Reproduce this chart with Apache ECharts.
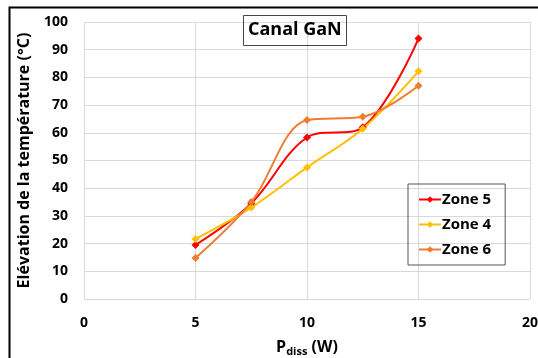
<!DOCTYPE html>
<html><head><meta charset="utf-8">
<script src="https://cdn.jsdelivr.net/npm/echarts@6/dist/echarts.min.js"></script>
<style>html,body{margin:0;padding:0;background:#fff}#c{width:538px;height:358px}</style>
</head><body><div id="c"></div>
<script>
const xValues = [5, 7.5, 10, 12.5, 15];
const zone5 = [19.5, 34.5, 58.3, 62, 94];
const zone4 = [21.7, 33, 47.5, 61.5, 82.2];
const zone6 = [14.8, 35, 64.6, 65.8, 77];
const seriesNames = ['Zone 5', 'Zone 4', 'Zone 6'];
const seriesColors = ['#ff0000', '#ffc000', '#ed7d31'];
const allSeries = [zone5, zone4, zone6];

const chart = echarts.init(document.getElementById('c'));
const font = 'Open Sans, Noto Sans, sans-serif';
chart.setOption({
  animation: false,
  title: {
    text: 'Canal GaN', left: 243, top: 15,
    padding: [6, 5, 7, 5],
    borderColor: '#444', borderWidth: 1,
    textStyle: { fontFamily: font, fontWeight: 'bold', fontSize: 18, color: '#000' }
  },
  graphic: [{
    type: 'rect', shape: { x: 9.5, y: 7.5, width: 540, height: 360 },
    style: { fill: 'none', stroke: '#000', lineWidth: 2 }, silent: true
  }],
  legend: {
    orient: 'vertical', left: 408, top: 184,
    padding: [8, 14, 8, 10], itemGap: 10,
    borderColor: '#555', borderWidth: 1,
    itemWidth: 22, itemHeight: 8,
    textStyle: { fontFamily: font, fontWeight: 'bold', fontSize: 15, color: '#000', padding: [0, 0, 0, -4] },
    data: seriesNames
  },
  grid: { left: 84, right: 8, top: 22, bottom: 59, outerBoundsMode: 'none', containLabel: false },
  xAxis: {
    type: 'value', min: 0, max: 20, interval: 5,
    axisLine: { show: false }, axisTick: { show: false },
    splitLine: { show: true, lineStyle: { color: '#d9d9d9', width: 1 } },
    axisLabel: { fontFamily: font, fontWeight: 'bold', fontSize: 14, color: '#000', margin: 17 },
    name: '{a|P}{b|diss}{a| (W)}', nameLocation: 'middle', nameGap: 38,
    nameTextStyle: {
      rich: {
        a: { fontFamily: font, fontWeight: 'bold', fontSize: 16, color: '#000' },
        b: { fontFamily: font, fontWeight: 'bold', fontSize: 11, color: '#000', padding: [9, 0, 0, 0] }
      }
    }
  },
  yAxis: {
    type: 'value', min: 0, max: 100, interval: 10,
    axisLine: { show: false }, axisTick: { show: false },
    splitLine: { show: true, lineStyle: { color: '#d9d9d9', width: 1 } },
    axisLabel: { fontFamily: font, fontWeight: 'bold', fontSize: 14, color: '#000', margin: 16 },
    name: 'Elévation de la température (°C)', nameLocation: 'middle', nameGap: 52,
    nameTextStyle: { fontFamily: font, fontWeight: 'bold', fontSize: 16, color: '#000' }
  },
  series: allSeries.map((d, i) => ({
    name: seriesNames[i], type: 'line', smooth: 0.35,
    data: xValues.map((x, j) => [x, d[j]]),
    symbol: 'diamond', symbolSize: 8, showSymbol: true,
    itemStyle: { color: seriesColors[i] },
    lineStyle: { color: seriesColors[i], width: 2 }
  }))
});
</script></body></html>
